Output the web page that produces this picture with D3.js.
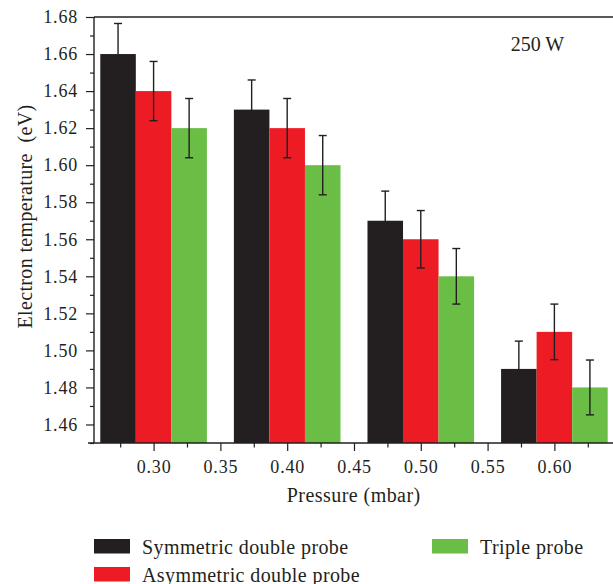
<!DOCTYPE html>
<html>
<head>
<meta charset="utf-8">
<script src="https://cdn.jsdelivr.net/npm/d3@7"></script>
<style>
  html, body { margin: 0; padding: 0; background: #fff; }
  svg { display: block; }
</style>
</head>
<body>
<svg id="chart" width="613" height="584" font-family="Liberation Serif"></svg>
<script>
// ---- data ----
const pressures = [0.30, 0.40, 0.50, 0.60];
const seriesNames = ["Symmetric double probe", "Asymmetric double probe", "Triple probe"];
const symmetric = [1.66, 1.63, 1.57, 1.49];
const asymmetric = [1.64, 1.62, 1.56, 1.51];
const triple = [1.62, 1.60, 1.54, 1.48];
const symmetricErr = [0.0165, 0.016, 0.016, 0.015];
const asymmetricErr = [0.016, 0.016, 0.0155, 0.015];
const triple_Err = [0.016, 0.016, 0.015, 0.0148];
const yTickLabels = ["1.46", "1.48", "1.50", "1.52", "1.54", "1.56", "1.58", "1.60", "1.62", "1.64", "1.66", "1.68"];
const yMinorTicks = [1.45, 1.47, 1.49, 1.51, 1.53, 1.55, 1.57, 1.59, 1.61, 1.63, 1.65, 1.67];
const xTickLabels = ["0.30", "0.35", "0.40", "0.45", "0.50", "0.55", "0.60"];
const xMinorTicks = [0.275, 0.325, 0.375, 0.425, 0.475, 0.525, 0.575, 0.625];
const colors = ["#231f20", "#ed1c24", "#6abd45"];
const annotation = "250 W";

// ---- layout ----
const FONT = "Liberation Serif";
const INK = "#231f20";
const svg = d3.select("#chart");
const mLeft = 94, mTop = 17, mBottom = 443;
const x = d3.scaleLinear().domain([0.2554, 0.65]).range([mLeft, mLeft + (0.65 - 0.2554) * 1336]);
const y = d3.scaleLinear().domain([1.45, 1.68]).range([mBottom, mTop]);
const barW = 0.0266; // in data units
const series = [
  { name: seriesNames[0], values: symmetric, errs: symmetricErr, color: colors[0], offset: -1 },
  { name: seriesNames[1], values: asymmetric, errs: asymmetricErr, color: colors[1], offset: 0 },
  { name: seriesNames[2], values: triple, errs: triple_Err, color: colors[2], offset: 1 }
];

// bars
series.forEach(s => {
  svg.append("g").selectAll("rect")
    .data(pressures.map((p, i) => ({ p, v: s.values[i] })))
    .join("rect")
    .attr("x", d => x(d.p + s.offset * barW - barW / 2))
    .attr("width", d => x(d.p + barW / 2) - x(d.p - barW / 2))
    .attr("y", d => y(d.v))
    .attr("height", d => y(1.45) - y(d.v))
    .attr("fill", s.color);
});

// error bars
series.forEach(s => {
  const g = svg.append("g").attr("stroke", INK).attr("stroke-width", 1.4);
  pressures.forEach((p, i) => {
    const cx = x(p + s.offset * barW);
    const hi = y(s.values[i] + s.errs[i]);
    const lo = y(s.values[i] - s.errs[i]);
    g.append("line").attr("x1", cx).attr("x2", cx).attr("y1", hi).attr("y2", lo);
    g.append("line").attr("x1", cx - 4).attr("x2", cx + 4).attr("y1", hi).attr("y2", hi);
    g.append("line").attr("x1", cx - 4).attr("x2", cx + 4).attr("y1", lo).attr("y2", lo);
  });
});

// axes
const yAxis = d3.axisLeft(y)
  .tickValues(yTickLabels.map(Number))
  .tickFormat((d, i) => yTickLabels[i])
  .tickSize(8).tickPadding(8);
const yMinor = d3.axisLeft(y).tickValues(yMinorTicks).tickFormat("").tickSize(4);
const xAxis = d3.axisBottom(x)
  .tickValues(xTickLabels.map(Number))
  .tickFormat((d, i) => xTickLabels[i])
  .tickSize(8).tickPadding(9);
const xMinor = d3.axisBottom(x).tickValues(xMinorTicks).tickFormat("").tickSize(4.5);

function style(g) {
  g.attr("font-family", FONT).attr("font-size", 18);
  g.select(".domain").remove();
  g.selectAll("line").attr("stroke", INK).attr("stroke-width", 1.2);
  g.selectAll("text").attr("font-family", FONT).attr("font-size", 18)
    .attr("letter-spacing", 0.8).attr("fill", INK);
}
svg.append("g").attr("transform", `translate(${mLeft},0)`).call(yAxis).call(style);
svg.append("g").attr("transform", `translate(${mLeft},0)`).call(yMinor).call(style);
svg.append("g").attr("transform", `translate(0,${mBottom})`).call(xAxis).call(style);
svg.append("g").attr("transform", `translate(0,${mBottom})`).call(xMinor).call(style);

// frame lines
svg.append("line").attr("x1", mLeft).attr("x2", mLeft).attr("y1", mTop).attr("y2", mBottom)
  .attr("stroke", INK).attr("stroke-width", 1.4);
svg.append("line").attr("x1", mLeft - 6).attr("x2", 613).attr("y1", mBottom).attr("y2", mBottom)
  .attr("stroke", INK).attr("stroke-width", 1.4);
svg.append("line").attr("x1", mLeft).attr("x2", 613).attr("y1", mTop).attr("y2", mTop)
  .attr("stroke", INK).attr("stroke-width", 1.4);

// titles
svg.append("text").attr("x", 353.7).attr("y", 502).attr("text-anchor", "middle")
  .attr("font-family", FONT).attr("fill", INK)
  .attr("font-size", 20).attr("letter-spacing", 0.45).text("Pressure (mbar)");
svg.append("text").attr("transform", "translate(32,216.5) rotate(-90)")
  .attr("font-family", FONT).attr("fill", INK)
  .attr("text-anchor", "middle").attr("font-size", 20).attr("letter-spacing", 0.35)
  .style("white-space", "pre").text("Electron temperature  (eV)");
svg.append("text").attr("x", 510.7).attr("y", 51).attr("font-family", FONT).attr("fill", INK)
  .attr("font-size", 20).text(annotation);

// legend
const legendPos = [[94, 539], [94, 567], [432, 539]];
series.forEach((s, i) => {
  const [lx, ly] = legendPos[i];
  svg.append("rect").attr("x", lx).attr("y", ly).attr("width", 36).attr("height", 14.5).attr("fill", s.color);
  svg.append("text").attr("x", lx + 48).attr("y", ly + 7.5).attr("dy", "0.35em")
    .attr("font-family", FONT).attr("fill", INK)
    .attr("font-size", 20).attr("letter-spacing", 0.4).text(s.name);
});
</script>
</body>
</html>
